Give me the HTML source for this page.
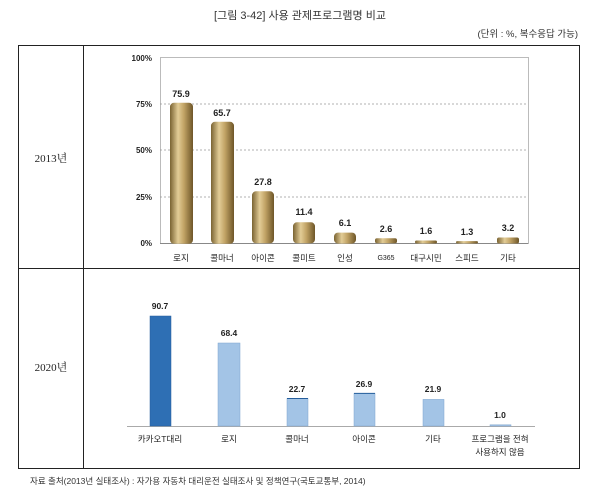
<!DOCTYPE html>
<html><head><meta charset="utf-8"><style>
body{margin:0;background:#fff;}
svg{display:block;font-family:"Liberation Sans","Noto Sans CJK KR",sans-serif;}
</style></head><body>
<svg width="600" height="497" viewBox="0 0 600 497" xmlns="http://www.w3.org/2000/svg">
<defs>
<linearGradient id="g" x1="0" x2="1" y1="0" y2="0">
<stop offset="0" stop-color="#7a6332"/><stop offset="0.35" stop-color="#e2cc96"/><stop offset="0.6" stop-color="#c2a466"/><stop offset="1" stop-color="#6e5628"/>
</linearGradient>
</defs>
<text x="300" y="19" font-size="11" text-anchor="middle" fill="#333">[그림 3-42] 사용 관제프로그램명 비교</text>
<text x="578" y="37" font-size="9.5" text-anchor="end" fill="#333">(단위 : %, 복수응답 가능)</text>
<rect x="18.5" y="45.5" width="561" height="423" fill="none" stroke="#222" stroke-width="1"/>
<line x1="83.5" y1="45" x2="83.5" y2="469" stroke="#222"/>
<line x1="18" y1="268.5" x2="580" y2="268.5" stroke="#222"/>
<text x="51" y="162" font-size="11" text-anchor="middle" font-family="Liberation Serif,'Noto Serif CJK SC',serif" fill="#222">2013년</text>
<text x="51" y="371" font-size="11" text-anchor="middle" font-family="Liberation Serif,'Noto Serif CJK SC',serif" fill="#222">2020년</text>
<!-- top chart -->
<rect x="160.5" y="57.5" width="368" height="186" fill="none" stroke="#bbb"/>
<g stroke="#999" stroke-dasharray="2,2" stroke-width="0.8">
<line x1="160" y1="104" x2="528" y2="104"/><line x1="160" y1="150" x2="528" y2="150"/><line x1="160" y1="197" x2="528" y2="197"/>
</g>
<line x1="160" y1="243.5" x2="528" y2="243.5" stroke="#888"/>
<g font-size="8" text-anchor="end" fill="#222" font-weight="bold">
<text x="152" y="61">100%</text><text x="152" y="107">75%</text><text x="152" y="153">50%</text><text x="152" y="200">25%</text><text x="152" y="246">0%</text>
</g>
<g fill="url(#g)">
<rect x="170" y="102.8" width="23" height="141" rx="4"/>
<rect x="211" y="121.8" width="23" height="122" rx="4"/>
<rect x="252" y="191.3" width="22" height="52" rx="4"/>
<rect x="293" y="222.3" width="22" height="21" rx="4"/>
<rect x="334" y="232.6" width="22" height="11" rx="4"/>
<rect x="375" y="238.2" width="22" height="5" rx="2"/>
<rect x="415" y="240.5" width="22" height="3" rx="1.5"/>
<rect x="456" y="241.1" width="22" height="2.4" rx="1.2"/>
<rect x="497" y="237.5" width="22" height="6" rx="2"/>
</g>
<g font-size="9" text-anchor="middle" fill="#222" font-weight="bold">
<text x="181" y="97">75.9</text><text x="222" y="116">65.7</text><text x="263" y="185">27.8</text><text x="304" y="215">11.4</text><text x="345" y="226">6.1</text><text x="386" y="232">2.6</text><text x="426" y="234">1.6</text><text x="467" y="235">1.3</text><text x="508" y="231">3.2</text>
</g>
<g font-size="8.5" text-anchor="middle" fill="#222">
<text x="181" y="261">로지</text><text x="222" y="261">콜마너</text><text x="263" y="261">아이콘</text><text x="304" y="261">콜미트</text><text x="345" y="261">인성</text><text x="386" y="260" font-size="7">G365</text><text x="426" y="261">대구시민</text><text x="467" y="261">스피드</text><text x="508" y="261">기타</text>
</g>
<!-- bottom chart -->
<line x1="127" y1="426.5" x2="535" y2="426.5" stroke="#aaa"/>
<rect x="150" y="316" width="21" height="110" fill="#2e6fb4" stroke="#255e9c" stroke-width="0.5"/>
<g fill="#a3c4e6" stroke="#7fa6cf" stroke-width="0.5">
<rect x="218" y="343" width="22" height="83"/>
<rect x="287" y="398.5" width="21" height="27.5"/>
<rect x="354" y="393.4" width="21" height="32.6"/>
<rect x="423" y="399.4" width="21" height="26.6"/>
<rect x="490" y="424.8" width="21" height="1.2"/>
</g>
<line x1="354" y1="393.4" x2="375" y2="393.4" stroke="#255e9c"/>
<line x1="287" y1="398.5" x2="308" y2="398.5" stroke="#255e9c"/>
<g font-size="8.5" text-anchor="middle" fill="#222" font-weight="bold">
<text x="160" y="309">90.7</text><text x="229" y="336">68.4</text><text x="297" y="392">22.7</text><text x="364" y="387">26.9</text><text x="433" y="392">21.9</text><text x="500" y="418">1.0</text>
</g>
<g font-size="8.5" text-anchor="middle" fill="#222">
<text x="160" y="442">카카오T대리</text><text x="229" y="442">로지</text><text x="297" y="442">콜마너</text><text x="364" y="442">아이콘</text><text x="433" y="442">기타</text><text x="500" y="442">프로그램을 전혀</text><text x="500" y="455">사용하지 않음</text>
</g>
<text x="30" y="484" font-size="8.5" fill="#333">자료 출처(2013년 실태조사) : 자가용 자동차 대리운전 실태조사 및 정책연구(국토교통부, 2014)</text>
</svg>
</body></html>
